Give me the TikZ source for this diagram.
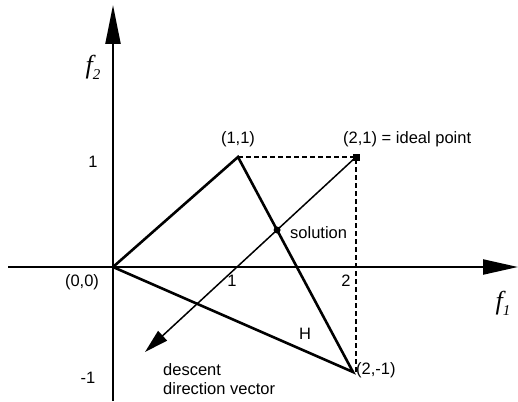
\documentclass[tikz,border=0pt]{standalone}
\usepackage{fontspec}
\setmainfont{Liberation Sans}
\newfontfamily\fserif{Liberation Serif}
\usetikzlibrary{arrows.meta}
\begin{document}
\begin{tikzpicture}[x=1pt,y=-1pt,
  axis/.style={line width=2.2pt},
  tri/.style={line width=2.6pt, line join=miter},
  guide/.style={line width=1.4pt, dash pattern=on 5pt off 3pt},
  lbl/.style={font=\fontsize{16.5}{19}\selectfont, inner sep=0pt},
  flbl/.style={font=\fontsize{26}{28}\fserif\itshape, inner sep=0pt}]
\useasboundingbox (0,0) rectangle (518,401);
\coordinate (O) at (113,267);
\coordinate (A) at (238,157);
\coordinate (I) at (356,157);
\coordinate (B) at (353,372);
\coordinate (Bd) at (356,372);
\coordinate (D) at (145,352);
\coordinate (XL) at (8,267);
\coordinate (XR) at (518,267);
\coordinate (YB) at (113,401);
\coordinate (YT) at (113,5);
% axes
\draw[axis, -{Triangle[length=35pt,width=15pt]}] (XL) -- (XR);
\draw[axis, -{Triangle[length=39pt,width=15pt]}] (YB) -- (YT);
% dashed guides
\draw[guide] (A) -- (I) -- (Bd);
% triangle
\draw[tri] (O) -- (A) -- (B) -- cycle;
% descent vector
\draw[line width=1.5pt, -{Triangle[length=24pt,width=13pt]}] (I) -- (D);
% ideal point and solution
\fill (I) ++(-3.5,-3.5) rectangle ++(7,7);
\coordinate (S) at (intersection of A--B and I--D);
\fill (S) circle (3.5pt);
% labels
\node[flbl] (f2) at (93,67) {f\raisebox{-6pt}{\fontsize{15}{16}\selectfont 2}};
\node[flbl] (f1) at (503,303) {f\raisebox{-6pt}{\fontsize{15}{16}\selectfont 1}};
\node[lbl] (l11) at (238,139) {(1,1)};
\node[lbl, anchor=west] (l21) at (343,139) {(2,1) = ideal point};
\node[lbl] (l00) at (82,282) {(0,0)};
\node[lbl, anchor=west] (l2m) at (356,370) {(2,-1)};
\node[lbl] (t1y) at (93,162) {1};
\node[lbl] (tm1) at (88,378) {-1};
\node[lbl] (t1x) at (232,281) {1};
\node[lbl] (t2x) at (346,281) {2};
\node[lbl, anchor=west] (sol) at (290,233) {solution};
\node[lbl] (H) at (305,334) {H};
\node[lbl, anchor=north west, align=left] (desc) at (163,363) {descent\\direction vector};
\end{tikzpicture}
\end{document}
